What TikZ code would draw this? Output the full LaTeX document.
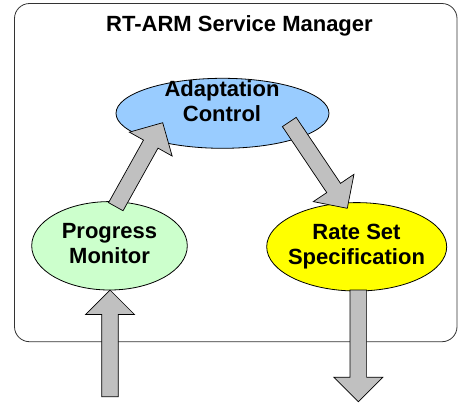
\documentclass[tikz,border=0pt]{standalone}
\usepackage{fontspec}
\setmainfont{Liberation Sans}
\usetikzlibrary{shapes.geometric,calc}

\definecolor{acblue}{HTML}{99CCFF}
\definecolor{pmgreen}{HTML}{CCFFCC}
\definecolor{rsyellow}{HTML}{FFFF00}
\definecolor{arrowgray}{HTML}{C0C0C0}

% block arrow from #1 (tail) to #2 (tip)
\newcommand{\fatarrow}[2]{%
  \coordinate (fa-b) at ($(#2)!24.5pt!(#1)$);
  \filldraw[fatarrow] ($(#1)!8.3pt!90:(#2)$) -- ($(fa-b)!8.3pt!-90:(#1)$)
    -- ($(fa-b)!24.5pt!-90:(#1)$) -- (#2) -- ($(fa-b)!24.5pt!90:(#1)$)
    -- ($(fa-b)!8.3pt!90:(#1)$) -- ($(#1)!8.3pt!-90:(#2)$) -- cycle;}

\begin{document}
\begin{tikzpicture}[x=1pt,y=-1pt,
	bubble/.style={ellipse,draw=black,line width=0.8pt,inner sep=0pt},
	lbl/.style={align=center,inner sep=0pt,font=\fontsize{22}{25}\selectfont\bfseries},
	fatarrow/.style={fill=arrowgray,draw=black,line width=0.7pt,line join=miter}]
		\useasboundingbox (0,0) rectangle (458,402);

		%manager box
		\draw[draw=black!80,line width=0.8pt,rounded corners=15pt] (14.5,3.5) rectangle (457,341.7);
		\node[lbl,anchor=base] (title) at (239.5,31) {RT-ARM Service Manager};

		%bubbles
		\node[bubble,fill=acblue,minimum width=213pt,minimum height=70pt] (ac) at (222.5,113.3) {};
		\node[bubble,fill=pmgreen,minimum width=155.6pt,minimum height=88.4pt] (pm) at (109.5,245.8) {};
		\node[bubble,fill=rsyellow,minimum width=180pt,minimum height=88.4pt] (rs) at (356.7,246.8) {};

		%bubble texts
		\node[lbl] (ac-txt) at (222,101.5) {Adaptation\\Control};
		\node[lbl] (pm-txt) at (109.5,244) {Progress\\Monitor};
		\node[lbl] (rs-txt) at (356.5,247) {Rate Set\\Specification};

		%arrow ends
		\coordinate (pm-out) at (115.8,206.7);
		\coordinate (ac-in) at (162.7,122.7);
		\coordinate (ac-out) at (289.3,122);
		\coordinate (rs-in) at (347.3,208.3);
		\coordinate (pm-in) at (110,396.7);
		\coordinate (pm-tip) at (110,290);
		\coordinate (rs-top) at (358.3,290);
		\coordinate (rs-out) at (358.3,401.7);

		%arrows
		\fatarrow{pm-out}{ac-in}
		\fatarrow{ac-out}{rs-in}
		\fatarrow{pm-in}{pm-tip}
		\fatarrow{rs-top}{rs-out}
	\end{tikzpicture}
\end{document}
